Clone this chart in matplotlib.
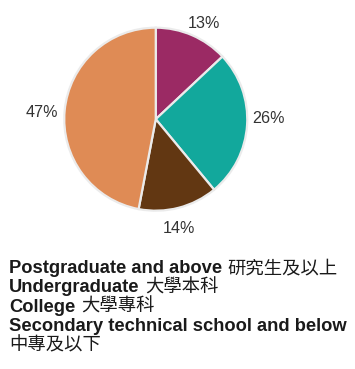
import matplotlib
matplotlib.use("Agg")
import matplotlib.pyplot as plt

# education level shares (%)
levels_en = ["Postgraduate and above", "Undergraduate", "College",
             "Secondary technical school and below"]
levels_zh = ["研究生及以上", "大學本科", "大學專科", "中專及以下"]
shares = [13, 26, 14, 47]
colors = ["#9b2a64", "#12a89c", "#623712", "#df8b55"]

# small nudges for the percentage labels (in pie radii)
label_nudge = [(0.05, -0.06), (0.03, 0.08), (-0.05, -0.03), (-0.05, -0.04)]

plt.rcParams["font.family"] = ["Liberation Sans", "Noto Sans CJK TC"]

fig = plt.figure(figsize=(3.55, 3.69), dpi=100)
ax = fig.add_axes([0.181, 0.429, 0.5155, 0.496])

wedges, texts, autotexts = ax.pie(
    shares, colors=colors, startangle=90, counterclock=False,
    autopct="%d%%", pctdistance=1.2,
    wedgeprops=dict(edgecolor="#ebebeb", linewidth=1.6),
    textprops=dict(fontsize=11.6, color="#333333"),
)
for t, (dx, dy) in zip(autotexts, label_nudge):
    x, y = t.get_position()
    t.set_position((x + dx, y + dy))
ax.set_xlim(-1, 1)
ax.set_ylim(-1, 1)
ax.set_aspect("equal")

# legend as plain text lines below the pie
fs = 13.2
y0 = 1 - 273 / 369
step = 19.3 / 369
for i, (en, zh) in enumerate(zip(levels_en, levels_zh)):
    y = y0 - i * step
    t = fig.text(0.026, y, en, fontsize=fs, fontweight="bold",
                 color="#1a1a1a", va="baseline")
    if i < 3:
        ax.annotate(zh, xy=(1, y), xycoords=(t, fig.transFigure),
                    xytext=(4, 0), textcoords="offset points",
                    fontsize=fs, color="#1a1a1a", va="baseline",
                    annotation_clip=False)
    else:
        fig.text(0.026, y - step, zh, fontsize=fs, color="#1a1a1a",
                 va="baseline")

fig.savefig("out.png", dpi=100)
